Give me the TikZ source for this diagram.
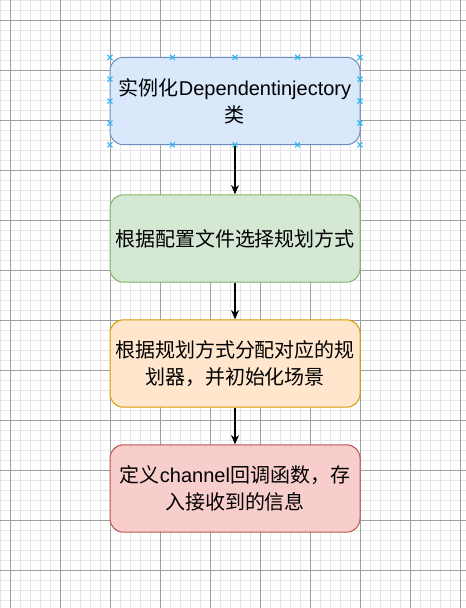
\documentclass[tikz,border=0pt]{standalone}
\usepackage{fontspec}
\setmainfont{Liberation Sans}
\newfontfamily\cjk{Noto Sans CJK SC}
\usetikzlibrary{arrows.meta}
\definecolor{bluefill}{HTML}{DAE8FC}\definecolor{bluedraw}{HTML}{6C8EBF}
\definecolor{greenfill}{HTML}{D5E8D4}\definecolor{greendraw}{HTML}{82B366}
\definecolor{orangefill}{HTML}{FFE6CC}\definecolor{orangedraw}{HTML}{D79B00}
\definecolor{redfill}{HTML}{F8CECC}\definecolor{reddraw}{HTML}{B85450}
\definecolor{minorgrid}{HTML}{E6E6E6}\definecolor{majorgrid}{HTML}{A0A0A0}
\definecolor{handlecol}{HTML}{29B6F2}
\tikzset{
  minorline/.style={draw=minorgrid, line width=0.75pt},
  majorline/.style={draw=majorgrid, line width=0.75pt},
  box/.style={rounded corners=10pt, line width=0.75pt, minimum width=187.5pt, minimum height=65.5pt,
    inner sep=0pt, text width=185pt, align=center, font=\fontsize{15pt}{20pt}\selectfont},
  conn/.style={-{Stealth[length=7pt,width=6pt]}, line width=0.9pt, black},
  handle/.style={draw=handlecol, line width=0.8pt}
}
\begin{document}
\begin{tikzpicture}[x=0.75pt,y=-0.75pt]
\useasboundingbox (0,0) rectangle (466,608);
\fill[white] (0,0) rectangle (466,608);
\foreach \x in {0,10,...,460} \draw[minorline] (\x,0) -- (\x,608);
\foreach \y in {0,10,...,600} \draw[minorline] (0,\y) -- (466,\y);
\foreach \x in {10,60,...,460} \draw[majorline] (\x,0) -- (\x,608);
\foreach \y in {20,70,...,570} \draw[majorline] (0,\y) -- (466,\y);

\node[box, fill=bluefill, draw=bluedraw] (b1) at (235,101)
  {{\cjk 实例化}Dependentinjectory\\{\cjk 类}};
\node[box, fill=greenfill, draw=greendraw] (b2) at (235,238.5)
  {\cjk 根据配置文件选择规划方式};
\node[box, fill=orangefill, draw=orangedraw] (b3) at (235,363.5)
  {\cjk 根据规划方式分配对应的规\\划器，并初始化场景};
\node[box, fill=redfill, draw=reddraw] (b4) at (235,488.5)
  {{\cjk 定义}channel{\cjk 回调函数，存}\\{\cjk 入接收到的信息}};

\draw[conn] (b1.south) -- (b2.north);
\draw[conn] (b2.south) -- (b3.north);
\draw[conn] (b3.south) -- (b4.north);

\foreach \p in {(110,57.25),(172.5,57.25),(235,57.25),(297.5,57.25),(360,57.25),
                (110,79),(110,101),(110,123),(360,79),(360,101),(360,123),
                (110,144.75),(172.5,144.75),(235,144.75),(297.5,144.75),(360,144.75)}
  \draw[handle] \p ++(-2.5,-2.5) -- ++(5,5) \p ++(-2.5,2.5) -- ++(5,-5);
\end{tikzpicture}
\end{document}
